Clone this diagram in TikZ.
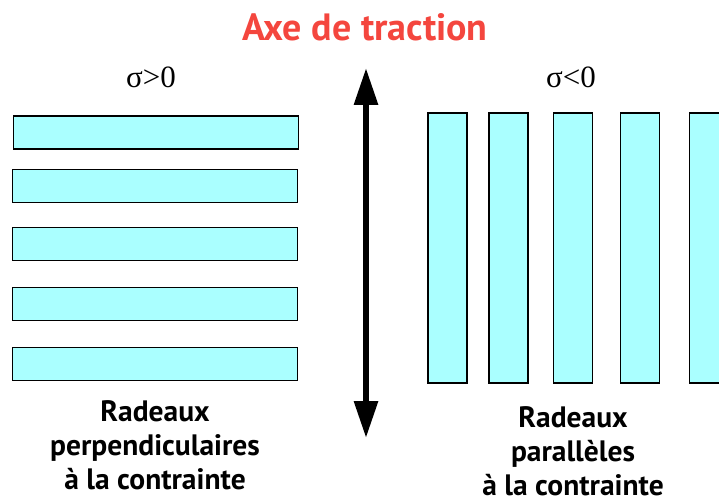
\documentclass[tikz,border=0pt]{standalone}
\usepackage{fontspec}
\setmainfont{Liberation Serif}
\newfontfamily\labelfont{PT Sans}
\usetikzlibrary{arrows.meta,positioning}
\definecolor{Raft}{HTML}{AAFFFF}
\definecolor{TitleRed}{HTML}{F4463E}

\begin{document}
\begin{tikzpicture}[x=1pt,y=-1pt,
          raft/.style={draw=black,fill=Raft,line width=1.6pt,inner sep=0pt},
          hraft/.style={raft,minimum width=285pt,minimum height=33pt},
          vraft/.style={raft,minimum width=39pt,minimum height=270pt},
          caption/.style={font=\labelfont\bfseries\fontsize{29.5}{34}\selectfont,align=center,inner sep=1pt},
          sigma/.style={font=\fontsize{31}{31}\selectfont},
          axis/.style={{Triangle[length=37pt,width=23pt]}-{Triangle[length=37pt,width=23pt]},line width=6pt}]
        \clip (0,0) rectangle (719,500);
        \node[font=\labelfont\bfseries\fontsize{38}{42}\selectfont,text=TitleRed] (title) at (365,27) {Axe de traction};
        % rafts under tension
        \node[sigma] (sigpos) at (151,77) {σ>0};
        \node[hraft] (h1) at (156,132.5) {};
        \node[hraft] (h2) at (155,186) {};
        \node[hraft] (h3) at (155,244) {};
        \node[hraft] (h4) at (155,304) {};
        \node[hraft] (h5) at (155,364) {};
        \node[caption,below=18pt of h5] (perp) {Radeaux\\perpendiculaires\\à la contrainte};
        % rafts under compression
        \node[sigma] (signeg) at (571,77) {σ<0};
        \node[vraft] (v1) at (447.5,248) {};
        \node[vraft] (v2) at (508.5,248) {};
        \node[vraft] (v3) at (573,248) {};
        \node[vraft] (v4) at (640,248) {};
        \node[vraft] (v5) at (709,248) {};
        \node[caption,below=22pt of v3] (para) {Radeaux\\parallèles\\à la contrainte};
        \coordinate (top) at (366,68);
        \coordinate (bot) at (366,438);
        \draw[axis] (top) -- (bot);
      \end{tikzpicture}
\end{document}
